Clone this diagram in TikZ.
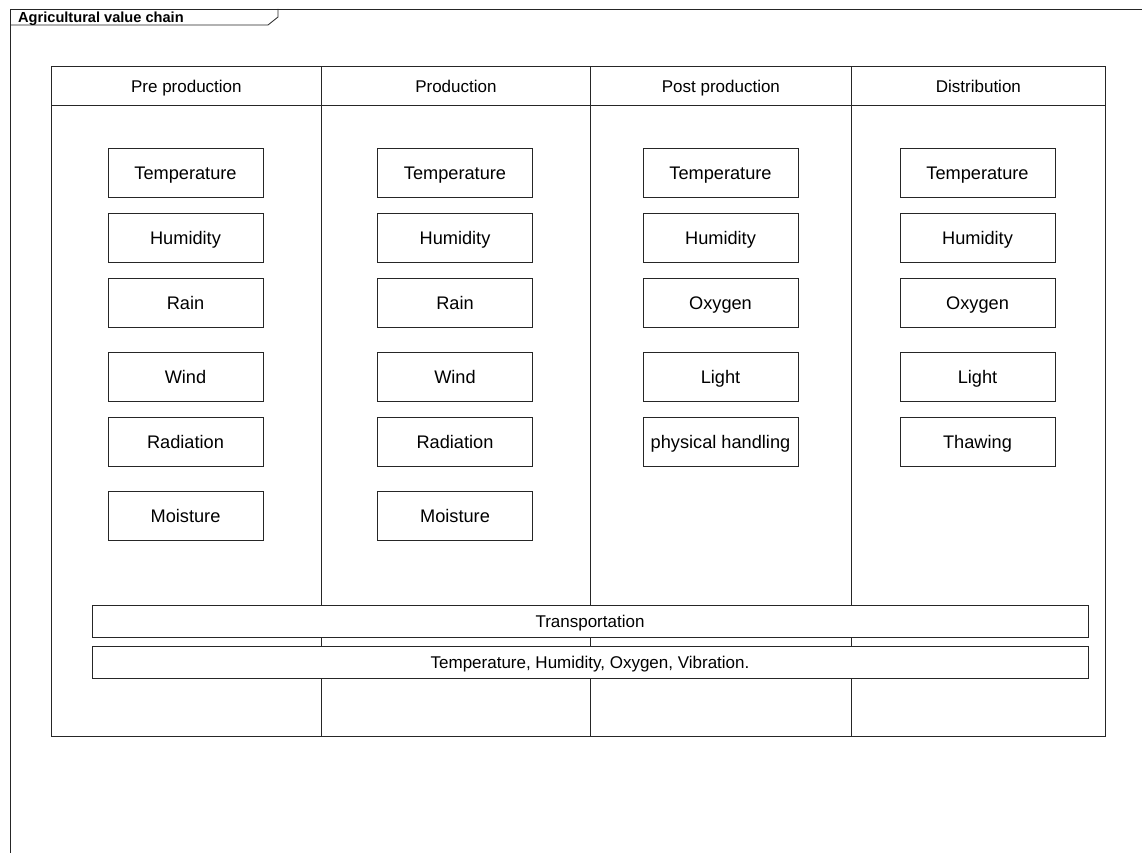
\documentclass[tikz,border=0pt]{standalone}
\usepackage{fontspec}
\setmainfont{Liberation Sans}
\begin{document}
\begin{tikzpicture}[x=1pt,y=-1pt,
  ln/.style={draw=black!85,line width=0.8pt},
  lane/.style={ln,rectangle,inner sep=0pt,anchor=north west},
  box/.style={ln,rectangle,fill=white,minimum width=155pt,minimum height=49pt,inner sep=0pt,text height=13.2pt,text depth=0pt,font=\fontsize{18.2}{21}\selectfont},
  bar/.style={ln,rectangle,fill=white,minimum width=996pt,minimum height=32pt,inner sep=0pt,text height=12.4pt,text depth=0pt,font=\fontsize{17}{20}\selectfont},
  hdr/.style={inner sep=0pt,text height=12.4pt,text depth=0pt,font=\fontsize{17}{20}\selectfont}]
\useasboundingbox (0,0) rectangle (1142,853);
% frame
\draw[ln] (10,853) -- (10,9) -- (1142,9);
\draw[ln] (10,25) -- (268,25) -- (278,17) -- (278,9);
\node[anchor=base west,inner sep=0pt,font=\fontsize{14.6}{16}\selectfont\bfseries] (title) at (18,23) {Agricultural value chain};
% lanes
\node[lane,minimum width=270pt,minimum height=39pt] (h1) at (51,66) {};
\node[lane,minimum width=269pt,minimum height=39pt] (h2) at (321,66) {};
\node[lane,minimum width=261pt,minimum height=39pt] (h3) at (590,66) {};
\node[lane,minimum width=254pt,minimum height=39pt] (h4) at (851,66) {};
\node[lane,minimum width=270pt,minimum height=631pt] (b1) at (51,105) {};
\node[lane,minimum width=269pt,minimum height=631pt] (b2) at (321,105) {};
\node[lane,minimum width=261pt,minimum height=631pt] (b3) at (590,105) {};
\node[lane,minimum width=254pt,minimum height=631pt] (b4) at (851,105) {};
\node[hdr] (t1) at (h1.center) {Pre production};
\node[hdr] (t2) at (h2.center) {Production};
\node[hdr] (t3) at (h3.center) {Post production};
\node[hdr] (t4) at (h4.center) {Distribution};
% column 1
\node[box] (a1) at (185.5,172.5) {Temperature};
\node[box] (a2) at (185.5,237.5) {Humidity};
\node[box] (a3) at (185.5,302.5) {Rain};
\node[box] (a4) at (185.5,376.5) {Wind};
\node[box] (a5) at (185.5,441.5) {Radiation};
\node[box] (a6) at (185.5,515.5) {Moisture};
% column 2
\node[box] (b1r) at (455,172.5) {Temperature};
\node[box] (b2r) at (455,237.5) {Humidity};
\node[box] (b3r) at (455,302.5) {Rain};
\node[box] (b4r) at (455,376.5) {Wind};
\node[box] (b5r) at (455,441.5) {Radiation};
\node[box] (b6r) at (455,515.5) {Moisture};
% column 3
\node[box] (c1) at (720.5,172.5) {Temperature};
\node[box] (c2) at (720.5,237.5) {Humidity};
\node[box] (c3) at (720.5,302.5) {Oxygen};
\node[box] (c4) at (720.5,376.5) {Light};
\node[box] (c5) at (720.5,441.5) {physical handling};
% column 4
\node[box] (d1) at (977.5,172.5) {Temperature};
\node[box] (d2) at (977.5,237.5) {Humidity};
\node[box] (d3) at (977.5,302.5) {Oxygen};
\node[box] (d4) at (977.5,376.5) {Light};
\node[box] (d5) at (977.5,441.5) {Thawing};
% bars
\node[bar] (tr) at (590,621) {Transportation};
\node[bar] (env) at (590,662) {Temperature, Humidity, Oxygen, Vibration.};
\end{tikzpicture}
\end{document}
